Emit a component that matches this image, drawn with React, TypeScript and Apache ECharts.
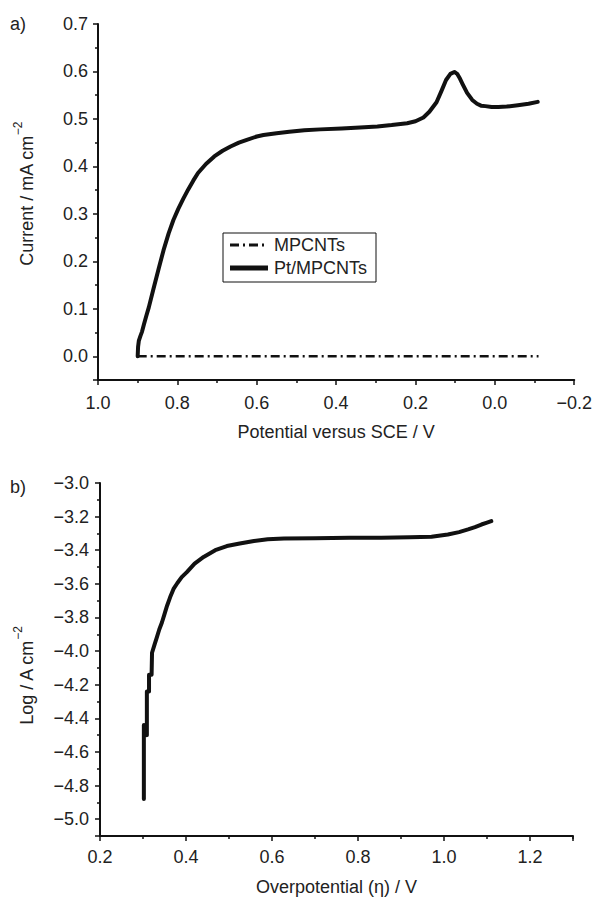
import React, { useEffect, useRef } from "react";
import * as echarts from "echarts";

// ---- Panel a) : current vs potential ----
const ptPotential = [0.900, 0.899, 0.897, 0.893, 0.889, 0.884, 0.878, 0.872, 0.860, 0.847, 0.835, 0.822, 0.810, 0.798, 0.785, 0.773, 0.760, 0.748, 0.728, 0.707, 0.686, 0.666, 0.645, 0.625, 0.600, 0.583, 0.550, 0.518, 0.480, 0.440, 0.386, 0.340, 0.296, 0.260, 0.221, 0.200, 0.180, 0.165, 0.147, 0.135, 0.123, 0.112, 0.102, 0.095, 0.088, 0.081, 0.070, 0.057, 0.045, 0.035, 0.024, 0.008, -0.009, -0.030, -0.058, -0.085, -0.108];
const ptCurrent = [0.000, 0.020, 0.033, 0.043, 0.052, 0.068, 0.086, 0.103, 0.143, 0.185, 0.223, 0.259, 0.287, 0.310, 0.332, 0.351, 0.370, 0.386, 0.405, 0.421, 0.433, 0.442, 0.450, 0.456, 0.463, 0.466, 0.470, 0.473, 0.476, 0.478, 0.480, 0.482, 0.484, 0.487, 0.491, 0.495, 0.503, 0.515, 0.535, 0.558, 0.582, 0.595, 0.599, 0.595, 0.585, 0.573, 0.555, 0.540, 0.532, 0.528, 0.527, 0.525, 0.525, 0.526, 0.529, 0.532, 0.536];
const mpPotential = [0.900, -0.110];
const mpCurrent = [0.000, 0.000];

// ---- Panel b) : log current vs overpotential ----
const etaValues = [0.302, 0.302, 0.309, 0.309, 0.314, 0.314, 0.320, 0.321, 0.327, 0.332, 0.338, 0.344, 0.350, 0.356, 0.363, 0.371, 0.380, 0.390, 0.402, 0.420, 0.441, 0.468, 0.495, 0.525, 0.558, 0.590, 0.628, 0.700, 0.780, 0.854, 0.920, 0.971, 1.009, 1.035, 1.056, 1.072, 1.087, 1.100, 1.110];
const logValues = [-4.88, -4.44, -4.50, -4.24, -4.24, -4.14, -4.14, -4.01, -3.96, -3.92, -3.87, -3.83, -3.78, -3.73, -3.68, -3.63, -3.595, -3.56, -3.53, -3.48, -3.44, -3.40, -3.375, -3.36, -3.345, -3.335, -3.33, -3.328, -3.325, -3.325, -3.322, -3.32, -3.306, -3.292, -3.276, -3.262, -3.247, -3.236, -3.227];

const seriesNames = ["MPCNTs", "Pt/MPCNTs"];

const zip = (xs: number[], ys: number[]) => xs.map((x, i) => [x, ys[i]]);

const FONT = "'Liberation Sans', Arial, Helvetica, sans-serif";
const INK = "#111";
const TEXT = "#222";
const FS = 18;
const DASHDOT = [9, 4, 2, 4];

const fmt = (v: number) => {
  if (Math.abs(v) < 1e-9) return "0.0";
  return v.toFixed(1).replace("-", "\u2212");
};

const axisCommon = {
  axisLine: { show: true, onZero: false, lineStyle: { color: INK, width: 2 } },
  axisTick: { show: true, inside: false, length: 5, lineStyle: { color: INK, width: 1.5 } },
  minorTick: { show: true, splitNumber: 2, length: 3, lineStyle: { color: INK, width: 1.5 } },
  splitLine: { show: false },
  minorSplitLine: { show: false },
};

const yName = (text: string, x: number, y: number) => ({
  type: "text",
  x,
  y,
  rotation: Math.PI / 2,
  style: {
    text: `{a|${text}}{s|\u22122}`,
    textAlign: "center",
    textVerticalAlign: "middle",
    fill: TEXT,
    rich: {
      a: { fontSize: FS, fontFamily: FONT, fill: TEXT, lineHeight: 24, verticalAlign: "bottom" },
      s: { fontSize: 12, fontFamily: FONT, fill: TEXT, lineHeight: 12, verticalAlign: "top" },
    },
  },
});

export default function App() {
  const ref = useRef<HTMLDivElement>(null);
  useEffect(() => {
    document.body.style.margin = "0";
    if (!ref.current) return;
    const chart = echarts.init(ref.current, null, { renderer: "svg" });
    const option: any = {
      animation: false,
      backgroundColor: "#fff",
      textStyle: { fontFamily: FONT },
      grid: [
        { left: 98, top: 24, width: 483, height: 356 },
        { left: 100, top: 483, width: 473, height: 354 },
      ],
      xAxis: [
        {
          ...axisCommon,
          type: "value",
          gridIndex: 0,
          inverse: true,
          min: -0.2,
          max: 1.0,
          interval: 0.2,
          axisLabel: { fontSize: FS, color: TEXT, margin: 14, formatter: fmt, fontFamily: FONT },
          name: "Potential versus SCE / V",
          nameLocation: "middle",
          nameGap: 43,
          nameTextStyle: { fontSize: FS, color: TEXT, fontFamily: FONT },
        },
        {
          ...axisCommon,
          type: "value",
          gridIndex: 1,
          min: 0.2,
          max: 1.3,
          interval: 0.2,
          axisLabel: {
            fontSize: FS,
            color: TEXT,
            margin: 12,
            fontFamily: FONT,
            formatter: (v: number) => (Math.abs(v * 5 - Math.round(v * 5)) < 1e-6 ? fmt(v) : ""),
          },
          name: "Overpotential (\u03b7) / V",
          nameLocation: "middle",
          nameGap: 42,
          nameTextStyle: { fontSize: FS, color: TEXT, fontFamily: FONT },
        },
      ],
      yAxis: [
        {
          ...axisCommon,
          type: "value",
          gridIndex: 0,
          min: -0.05,
          max: 0.7,
          splitNumber: 7,
          minInterval: 0.1,
          maxInterval: 0.1,
          axisLabel: {
            fontSize: FS,
            color: TEXT,
            margin: 10,
            fontFamily: FONT,
            formatter: (v: number) => (v < -0.01 ? "" : fmt(v)),
          },
        },
        {
          ...axisCommon,
          type: "value",
          gridIndex: 1,
          min: -5.1,
          max: -3.0,
          splitNumber: 10,
          minInterval: 0.2,
          maxInterval: 0.2,
          axisLabel: {
            fontSize: FS,
            color: TEXT,
            margin: 11,
            fontFamily: FONT,
            formatter: (v: number) => (v < -5.05 ? "" : fmt(v)),
          },
        },
      ],
      series: [
        {
          name: seriesNames[0],
          type: "line",
          xAxisIndex: 0,
          yAxisIndex: 0,
          data: zip(mpPotential, mpCurrent),
          showSymbol: false,
          symbol: "none",
          lineStyle: { color: INK, width: 2.5, type: DASHDOT },
          z: 3,
        },
        {
          name: seriesNames[1],
          type: "line",
          xAxisIndex: 0,
          yAxisIndex: 0,
          data: zip(ptPotential, ptCurrent),
          showSymbol: false,
          symbol: "none",
          lineStyle: { color: INK, width: 4, join: "round", cap: "round" },
          z: 4,
        },
        {
          name: "log",
          type: "line",
          xAxisIndex: 1,
          yAxisIndex: 1,
          data: zip(etaValues, logValues),
          showSymbol: false,
          symbol: "none",
          lineStyle: { color: INK, width: 4, join: "round", cap: "round" },
        },
      ],
      graphic: [
        {
          type: "text",
          x: 10,
          y: 24,
          style: { text: "a)", font: `${FS}px ${FONT}`, fill: TEXT, textAlign: "left", textVerticalAlign: "middle" },
        },
        {
          type: "text",
          x: 10,
          y: 487,
          style: { text: "b)", font: `${FS}px ${FONT}`, fill: TEXT, textAlign: "left", textVerticalAlign: "middle" },
        },
        yName("Current / mA cm", 24, 194),
        yName("Log / A cm", 24, 676),
        {
          type: "group",
          z: 100,
          children: [
            {
              type: "rect",
              shape: { x: 223, y: 233, width: 153, height: 49 },
              style: { fill: "#fff", stroke: INK, lineWidth: 1 },
            },
            {
              type: "line",
              shape: { x1: 230, y1: 245, x2: 268, y2: 245 },
              style: { stroke: INK, lineWidth: 3, lineDash: DASHDOT },
            },
            {
              type: "line",
              shape: { x1: 230, y1: 268, x2: 268, y2: 268 },
              style: { stroke: INK, lineWidth: 5 },
            },
            {
              type: "text",
              x: 274,
              y: 245,
              style: { text: seriesNames[0], font: `${FS}px ${FONT}`, fill: TEXT, textAlign: "left", textVerticalAlign: "middle" },
            },
            {
              type: "text",
              x: 274,
              y: 268,
              style: { text: seriesNames[1], font: `${FS}px ${FONT}`, fill: TEXT, textAlign: "left", textVerticalAlign: "middle" },
            },
          ],
        },
      ],
    };
    chart.setOption(option);
    return () => chart.dispose();
  }, []);
  return <div ref={ref} style={{ width: 595, height: 897 }} />;
}
